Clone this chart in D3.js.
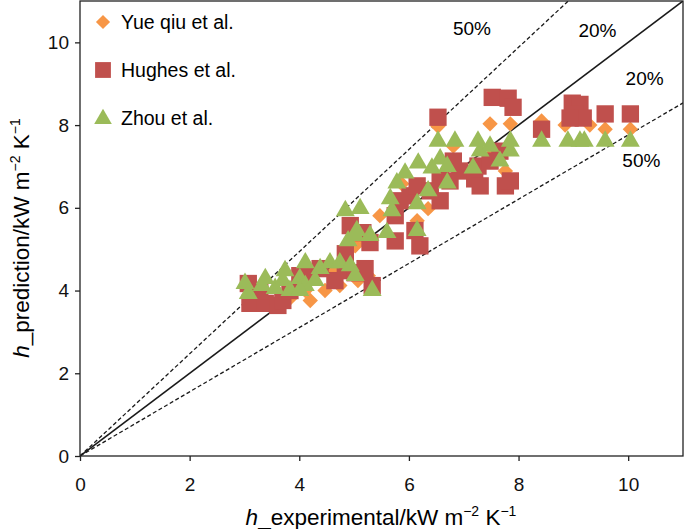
<!DOCTYPE html>
<html>
<head>
    <meta charset="utf-8">
    <title>h prediction vs experimental</title>
    <script src="https://cdn.jsdelivr.net/npm/d3@7/dist/d3.min.js"></script>
    <style>
        html, body { margin: 0; padding: 0; background: #fff; }
        svg { display: block; font-family: "Liberation Sans", Arial, sans-serif; }
    </style>
</head>
<body>
<svg id="chart" width="685" height="529"></svg>
<script>
    // data: [experimental, prediction] in kW m-2 K-1
    var yueQiu = [
        [3.1, 3.88], [3.83, 3.81], [4.11, 4.0], [4.2, 3.76], [4.47, 4.0], [4.74, 4.12],
        [5.07, 4.24], [5.26, 4.36], [4.65, 4.48], [5.2, 5.2], [5.02, 5.08], [5.47, 5.81],
        [5.87, 6.58], [6.35, 5.98], [6.15, 5.69], [6.81, 7.49], [6.53, 7.97], [7.12, 6.89],
        [7.48, 7.25], [7.76, 6.89], [7.48, 8.03], [7.85, 8.03], [8.42, 8.1], [8.85, 8.0],
        [9.3, 8.0], [9.58, 7.9], [10.04, 7.9]
    ];
    var hughes = [
        [3.07, 4.17], [3.1, 3.69], [3.38, 3.69], [3.61, 3.64], [3.7, 3.76], [3.28, 4.0],
        [3.83, 4.0], [4.01, 4.36], [4.2, 4.36], [4.38, 4.53], [4.65, 4.24], [4.84, 4.48],
        [5.02, 4.43], [5.2, 4.53], [4.84, 4.89], [4.93, 5.57], [5.16, 5.4], [5.29, 5.16],
        [5.33, 4.12], [5.75, 5.2], [5.75, 5.81], [5.84, 6.17], [6.02, 6.29], [6.11, 5.45],
        [6.2, 5.08], [6.15, 6.53], [6.39, 6.41], [6.57, 6.7], [6.57, 6.17], [6.75, 6.65],
        [6.93, 6.89], [6.81, 7.13], [7.2, 6.7], [7.26, 7.01], [7.48, 7.13], [7.66, 7.37],
        [7.76, 6.53], [7.85, 6.65], [7.3, 6.53], [6.53, 8.19], [7.52, 8.67], [7.81, 8.65],
        [7.9, 8.43], [8.42, 7.9], [8.98, 8.53], [9.12, 8.5], [9.03, 8.27], [9.18, 8.17],
        [8.94, 8.17], [9.58, 8.27], [10.04, 8.27]
    ];
    var zhou = [
        [3.01, 4.17], [3.32, 4.12], [3.07, 3.93], [3.56, 4.05], [3.83, 4.0], [3.7, 4.24],
        [4.01, 4.29], [4.11, 4.67], [4.38, 4.53], [4.56, 4.67], [4.74, 4.67], [4.93, 4.6],
        [5.02, 4.36], [4.11, 4.12], [4.29, 4.24], [4.01, 4.0], [4.84, 5.93], [5.11, 5.98],
        [4.89, 5.2], [5.02, 5.33], [5.29, 5.33], [5.05, 5.45], [5.33, 4.0], [5.6, 5.4],
        [5.69, 5.93], [5.66, 6.22], [5.78, 6.6], [5.93, 6.84], [6.15, 6.1], [6.15, 5.45],
        [6.17, 7.08], [6.35, 6.41], [6.42, 6.96], [6.57, 7.18], [6.7, 7.0], [6.7, 6.6],
        [6.53, 7.61], [6.84, 7.61], [7.17, 6.96], [7.3, 7.37], [7.48, 7.49], [7.66, 7.13],
        [7.85, 7.37], [7.26, 7.61], [7.85, 7.61], [8.42, 7.61], [8.9, 7.61], [9.12, 7.61],
        [9.2, 7.61], [9.58, 7.61], [10.04, 7.61], [3.74, 4.48], [3.38, 4.29]
    ];
    var seriesNames = ["Yue qiu et al.", "Hughes et al.", "Zhou et al."];
    var xTicks = [0, 2, 4, 6, 8, 10];
    var yTicks = [0, 2, 4, 6, 8, 10];
    // reference lines: slope and label
    var refSlopes = [1, 1.235, 0.776];
    var refLabels = [
        { text: "50%", x: 7.15, y: 10.17 },
        { text: "20%", x: 9.44, y: 10.12 },
        { text: "20%", x: 10.3, y: 8.97 },
        { text: "50%", x: 10.24, y: 6.99 }
    ];

    var svg = d3.select("#chart");
    var x = d3.scaleLinear().domain([0, 11]).range([80, 683]);
    var y = d3.scaleLinear().domain([0, 11]).range([456, 1]);

    svg.append("clipPath").attr("id", "clip")
        .append("rect").attr("x", 80).attr("y", 1).attr("width", 603).attr("height", 455);

    // reference lines
    var lines = svg.append("g").attr("clip-path", "url(#clip)");
    refSlopes.forEach(function (s, i) {
        lines.append("line")
            .attr("x1", x(0)).attr("y1", y(0))
            .attr("x2", x(11)).attr("y2", y(11 * s))
            .attr("stroke", "#1a1a1a")
            .attr("stroke-width", i == 0 ? 1.6 : 1.3)
            .attr("stroke-dasharray", i == 0 ? null : "4,2.5");
    });

    svg.selectAll("text.ref").data(refLabels).enter().append("text")
        .attr("class", "ref")
        .attr("x", function (d) { return x(d.x); })
        .attr("y", function (d) { return y(d.y); })
        .attr("text-anchor", "middle")
        .attr("font-size", 19)
        .text(function (d) { return d.text; });

    // markers
    var colors = ["#F79646", "#C0504D", "#9BBB59"];
    var diamond = d3.symbol().type(d3.symbolSquare).size(118)();
    var square = d3.symbol().type(d3.symbolSquare).size(300)();
    var triangle = d3.symbol().type(d3.symbolTriangle).size(155)();
    var shapes = [
        { data: yueQiu, path: diamond, rot: 45 },
        { data: hughes, path: square, rot: 0 },
        { data: zhou, path: triangle, rot: 0 }
    ];
    shapes.forEach(function (s, i) {
        svg.append("g").selectAll("path").data(s.data).enter().append("path")
            .attr("d", s.path)
            .attr("fill", colors[i])
            .attr("transform", function (d) {
                return "translate(" + x(d[0]) + "," + y(d[1]) + ") rotate(" + s.rot + ")";
            });
    });

    // frame and axes
    svg.append("rect").attr("x", 80).attr("y", 1).attr("width", 603).attr("height", 455)
        .attr("fill", "none").attr("stroke", "#222").attr("stroke-width", 1.3);

    var xAxis = svg.append("g").attr("transform", "translate(0,456)")
        .call(d3.axisBottom(x).tickValues(xTicks).tickSize(5).tickPadding(17).tickFormat(d3.format("d")));
    var yAxis = svg.append("g").attr("transform", "translate(80,0)")
        .call(d3.axisLeft(y).tickValues(yTicks).tickSize(5).tickPadding(6).tickFormat(d3.format("d")));
    [xAxis, yAxis].forEach(function (a) {
        a.select(".domain").remove();
        a.selectAll("line").attr("stroke", "#222").attr("stroke-width", 1.3);
        a.selectAll("text").attr("font-size", 19).attr("fill", "#111")
            .attr("font-family", "'Liberation Sans', Arial, sans-serif");
    });

    // legend
    var legendY = [22, 70, 118];
    var legendShapes = [
        d3.symbol().type(d3.symbolSquare).size(100)(),
        d3.symbol().type(d3.symbolSquare).size(250)(),
        d3.symbol().type(d3.symbolTriangle).size(135)()
    ];
    seriesNames.forEach(function (n, i) {
        svg.append("path").attr("d", legendShapes[i]).attr("fill", colors[i])
            .attr("transform", "translate(103," + (legendY[i] + (i == 2 ? 1 : 0)) + ") rotate(" + (i == 0 ? 45 : 0) + ")");
        svg.append("text").attr("x", 121).attr("y", legendY[i] + 7)
            .attr("font-size", 19.5).text(n);
    });

    // axis titles
    var xt = svg.append("text").attr("x", 381).attr("y", 525)
        .attr("text-anchor", "middle").attr("font-size", 22.5);
    xt.append("tspan").attr("font-style", "italic").text("h");
    xt.append("tspan").text("_experimental/kW m");
    xt.append("tspan").attr("font-size", 14).attr("dy", -9).text("\u22122");
    xt.append("tspan").attr("dy", 9).text(" K");
    xt.append("tspan").attr("font-size", 14).attr("dy", -9).text("\u22121");

    var yt = svg.append("text").attr("transform", "translate(29,238) rotate(-90)")
        .attr("text-anchor", "middle").attr("font-size", 22.5);
    yt.append("tspan").attr("font-style", "italic").text("h");
    yt.append("tspan").text("_prediction/kW m");
    yt.append("tspan").attr("font-size", 14).attr("dy", -9).text("\u22122");
    yt.append("tspan").attr("dy", 9).text(" K");
    yt.append("tspan").attr("font-size", 14).attr("dy", -9).text("\u22121");
</script>
</body>
</html>
